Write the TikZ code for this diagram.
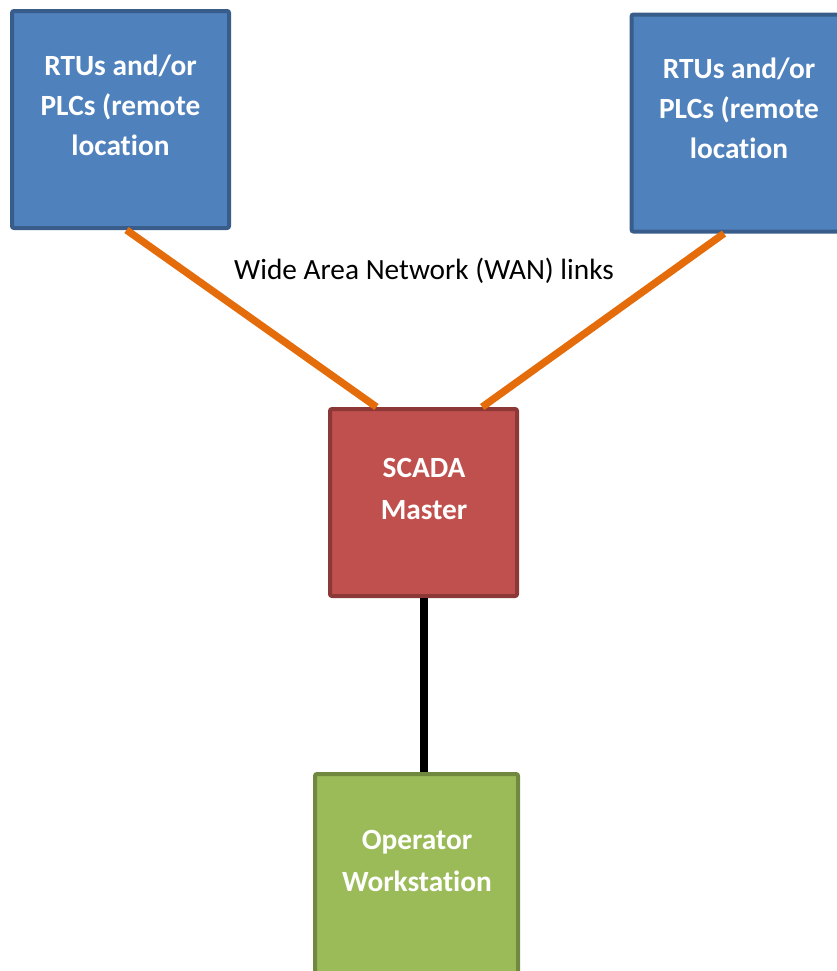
\documentclass[tikz,border=0pt]{standalone}
\usepackage{fontspec}
\setmainfont[Ligatures=CommonOff]{Carlito}
\usetikzlibrary{calc}

\definecolor{rtufill}{HTML}{4F81BD}
\definecolor{rtuline}{HTML}{385D8A}
\definecolor{masterfill}{HTML}{C0504D}
\definecolor{masterline}{HTML}{8C3836}
\definecolor{opfill}{HTML}{9BBB59}
\definecolor{opline}{HTML}{71893F}
\definecolor{wanline}{HTML}{E46C0A}

\tikzset{
  unitbox/.style={draw, line width=3pt, rounded corners=1.5pt, inner sep=0pt},
  rtubox/.style={unitbox, fill=rtufill, draw=rtuline, minimum width=162.75pt, minimum height=162.75pt},
  masterbox/.style={unitbox, fill=masterfill, draw=masterline, minimum width=140.25pt, minimum height=140.25pt},
  opbox/.style={unitbox, fill=opfill, draw=opline, minimum width=152.25pt, minimum height=152.25pt},
  boxlabel/.style={text=white, font=\bfseries\fontsize{22pt}{30pt}\selectfont, align=center, inner sep=0pt},
  wan/.style={draw=wanline, line width=5.5pt},
  lan/.style={draw=black, line width=6pt},
}

\begin{document}
\begin{tikzpicture}[x=0.75pt, y=-0.75pt]
  \useasboundingbox (0,0) rectangle (837,971);

  % field devices, the master station and the operator console
  \node[rtubox] (rtuL) at (120.5,119.5) {};
  \node[rtubox] (rtuR) at (740,123) {};
  \node[masterbox] (scada) at (423.5,502.5) {};
  \node[opbox] (op) at (416.5,875.5) {};

  % box captions
  \node[boxlabel] (rtuLtext) at (120.5,105) {RTUs and/or\\PLCs (remote\\location};
  \node[boxlabel] (rtuRtext) at (739,108) {RTUs and/or\\PLCs (remote\\location};
  \node[boxlabel, font=\bfseries\fontsize{22pt}{31.5pt}\selectfont] (scadatext) at (424,489) {SCADA\\Master};
  \node[boxlabel, font=\bfseries\fontsize{22pt}{31.5pt}\selectfont] (optext) at (417,861) {Operator\\Workstation};

  % WAN links to the remote sites
  \draw[wan] ([xshift=4.5pt]rtuL.south) -- ([xshift=-35.25pt]scada.north);
  \draw[wan] ([xshift=-12pt]rtuR.south) -- ([xshift=44pt]scada.north);
  \node[font=\fontsize{22pt}{26pt}\selectfont, inner sep=0pt] (wantext) at (424,271) {Wide Area Network (WAN) links};

  % local link to the workstation
  \draw[lan] (scada.south) -- (scada.south |- op.north);
\end{tikzpicture}
\end{document}
